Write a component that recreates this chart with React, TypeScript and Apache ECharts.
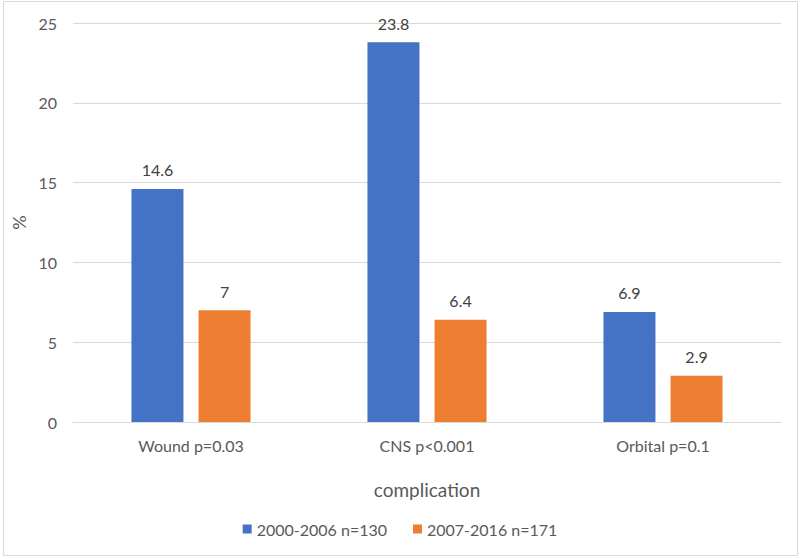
import React, { useEffect, useRef } from "react";
import * as echarts from "echarts";

const categories = ["Wound p=0.03", "CNS p<0.001", "Orbital p=0.1"];
const seriesNames = ["2000-2006 n=130", "2007-2016 n=171"];
const series2000 = [14.6, 23.8, 6.9];
const series2007 = [7, 6.4, 2.9];
const yTicks = { min: 0, max: 25, interval: 5 };

const FONT = "Lato, 'Open Sans', sans-serif";
const TEXT = "#595959";

export default function App() {
  const ref = useRef<HTMLDivElement>(null);
  useEffect(() => {
    if (!ref.current) return;
    const chart = echarts.init(ref.current, undefined, { renderer: "svg" });
    const label = {
      show: true,
      position: "top",
      distance: 11,
      color: "#404040",
      fontFamily: FONT,
      fontSize: 16,
    };
    chart.setOption({
      animation: false,
      backgroundColor: "#fff",
      textStyle: { fontFamily: FONT },
      graphic: [
        {
          type: "rect",
          shape: { x: 3.5, y: 1.5, width: 794, height: 554 },
          style: { fill: "none", stroke: "#d9d9d9", lineWidth: 1 },
          silent: true,
        },
      ],
      grid: { left: 73, right: 19, top: 23, bottom: 137 },
      legend: {
        bottom: 17,
        left: "center",
        itemWidth: 9,
        itemHeight: 9,
        itemGap: 26,
        icon: "rect",
        textStyle: { color: TEXT, fontSize: 16, fontFamily: FONT },
        data: seriesNames,
      },
      xAxis: {
        type: "category",
        data: categories,
        name: "complication",
        nameLocation: "middle",
        nameGap: 58,
        nameTextStyle: { color: TEXT, fontSize: 19, fontFamily: FONT },
        axisLine: { lineStyle: { color: "#d9d9d9", width: 1 } },
        axisTick: { show: false },
        axisLabel: { color: TEXT, fontSize: 16, margin: 15, fontFamily: FONT },
      },
      yAxis: {
        type: "value",
        min: yTicks.min,
        max: yTicks.max,
        interval: yTicks.interval,
        name: "%",
        nameLocation: "middle",
        nameGap: 44,
        nameRotate: 90,
        nameTextStyle: { color: TEXT, fontSize: 18, fontFamily: FONT },
        axisLine: { show: false },
        axisTick: { show: false },
        axisLabel: { color: TEXT, fontSize: 16, margin: 16, fontFamily: FONT },
        splitLine: { lineStyle: { color: "#d9d9d9", width: 1 } },
      },
      series: [
        {
          name: seriesNames[0],
          type: "bar",
          data: series2000,
          barWidth: 52,
          barGap: "29%",
          itemStyle: { color: "#4472C4" },
          label,
        },
        {
          name: seriesNames[1],
          type: "bar",
          data: series2007,
          barWidth: 52,
          barGap: "29%",
          itemStyle: { color: "#ED7D31" },
          label,
        },
      ],
    });
    return () => chart.dispose();
  }, []);
  return (
    <div
      ref={ref}
      style={{ position: "fixed", left: 0, top: 0, width: 800, height: 559 }}
    />
  );
}
